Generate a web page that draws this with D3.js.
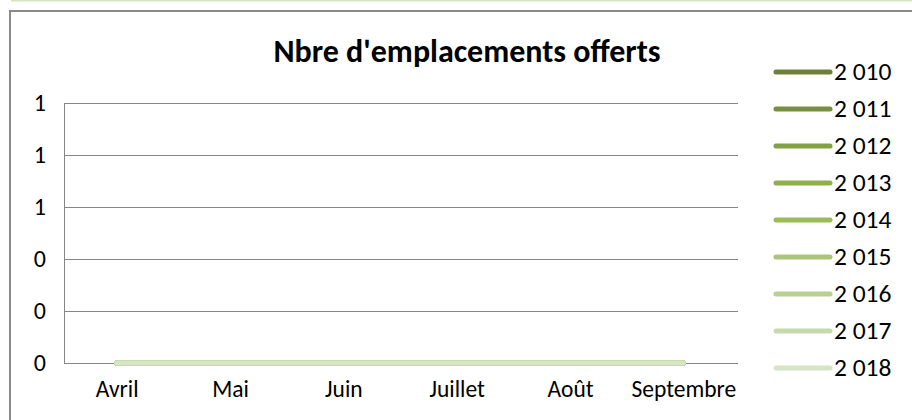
<!DOCTYPE html>
<html>
<head>
<meta charset="utf-8">
<script src="https://cdn.jsdelivr.net/npm/d3@7/dist/d3.min.js"></script>
<style>
  html, body { margin: 0; padding: 0; background: #ffffff; }
  svg { display: block; }
  text { font-family: Carlito, Calibri, "Open Sans", sans-serif; fill: #000; }
</style>
</head>
<body>
<svg id="chart" width="912" height="420"></svg>
<script>
const months = ["Avril", "Mai", "Juin", "Juillet", "Août", "Septembre"];
const years = ["2 010", "2 011", "2 012", "2 013", "2 014", "2 015", "2 016", "2 017", "2 018"];
const values2010 = [0, 0, 0, 0, 0, 0];
const values2011 = [0, 0, 0, 0, 0, 0];
const values2012 = [0, 0, 0, 0, 0, 0];
const values2013 = [0, 0, 0, 0, 0, 0];
const values2014 = [0, 0, 0, 0, 0, 0];
const values2015 = [0, 0, 0, 0, 0, 0];
const values2016 = [0, 0, 0, 0, 0, 0];
const values2017 = [0, 0, 0, 0, 0, 0];
const values2018 = [0, 0, 0, 0, 0, 0];
const yTicks = [0, 0.2, 0.4, 0.6, 0.8, 1.0];
const colors = ["#6b8138", "#778f40", "#83a047", "#8fb04f", "#9bbb59", "#abc57a", "#bacf93", "#c8d9ad", "#d8e4c6"];
const title = "Nbre d'emplacements offerts";

const seriesValues = [values2010, values2011, values2012, values2013, values2014, values2015, values2016, values2017, values2018];
const series = years.map((y, i) => ({ name: y, values: seriesValues[i], color: colors[i] }));

const FONT = 'Carlito, Calibri, "Open Sans", sans-serif';
const svg = d3.select("#chart");

// outer frame
svg.append("line").attr("x1", 11).attr("x2", 912).attr("y1", 0.5).attr("y2", 0.5)
  .attr("stroke", "#d7e4bd").attr("stroke-width", 2);
svg.append("line").attr("x1", 9).attr("x2", 912).attr("y1", 11).attr("y2", 11)
  .attr("stroke", "#8a8a8a").attr("stroke-width", 2);
svg.append("line").attr("x1", 10).attr("x2", 10).attr("y1", 10).attr("y2", 420)
  .attr("stroke", "#8a8a8a").attr("stroke-width", 2);

const plotLeft = 64, plotRight = 738, plotTop = 103, plotBottom = 363;

const x = d3.scalePoint().domain(months).range([plotLeft - 4, plotRight + 2]).padding(0.5);
const y = d3.scaleLinear().domain([0, 1]).range([plotBottom, plotTop]);

// gridlines
svg.append("g").selectAll("line").data(yTicks).join("line")
  .attr("x1", plotLeft).attr("x2", plotRight)
  .attr("y1", d => Math.round(y(d)) + 0.5).attr("y2", d => Math.round(y(d)) + 0.5)
  .attr("stroke", "#868686").attr("stroke-width", 1);
// vertical axis line
svg.append("line").attr("x1", plotLeft + 0.5).attr("x2", plotLeft + 0.5)
  .attr("y1", plotTop).attr("y2", plotBottom + 1)
  .attr("stroke", "#868686").attr("stroke-width", 1);

// y axis labels
const yAxis = d3.axisLeft(y).tickValues(yTicks).tickFormat(d3.format(".0f")).tickSize(0).tickPadding(18);
const gy = svg.append("g").attr("transform", `translate(${plotLeft},0)`).call(yAxis);
gy.select(".domain").remove();
gy.selectAll("text").style("font-family", FONT).style("font-size", "24px").attr("fill", "#000");

// x axis labels
const xAxis = d3.axisBottom(x).tickSize(0).tickPadding(0);
const gx = svg.append("g").attr("transform", `translate(0,${plotBottom})`).call(xAxis);
gx.select(".domain").remove();
gx.selectAll("text").style("font-family", FONT).style("font-size", "23.5px").attr("fill", "#000")
  .attr("y", 34).attr("dy", 0);

// lines
const line = d3.line().x((d, i) => x(months[i])).y(d => y(d));
svg.append("g").selectAll("path").data(series).join("path")
  .attr("d", d => line(d.values))
  .attr("fill", "none")
  .attr("stroke", d => d.color)
  .attr("stroke-width", 5)
  .attr("stroke-linecap", "round")
  .attr("stroke-linejoin", "round");

// title
svg.append("text").attr("x", 467).attr("y", 62).attr("text-anchor", "middle")
  .style("font-size", "32px").style("font-weight", "bold").text(title);

// legend
const lg = svg.append("g").selectAll("g").data(series).join("g")
  .attr("transform", (d, i) => `translate(0,${72 + i * 37})`);
lg.append("line").attr("x1", 776).attr("x2", 830).attr("y1", 0).attr("y2", 0)
  .attr("stroke", d => d.color).attr("stroke-width", 5).attr("stroke-linecap", "round");
lg.append("text").attr("x", 834).attr("y", 0).attr("dy", "0.33em")
  .style("font-size", "25.5px").text(d => d.name);
</script>
</body>
</html>
